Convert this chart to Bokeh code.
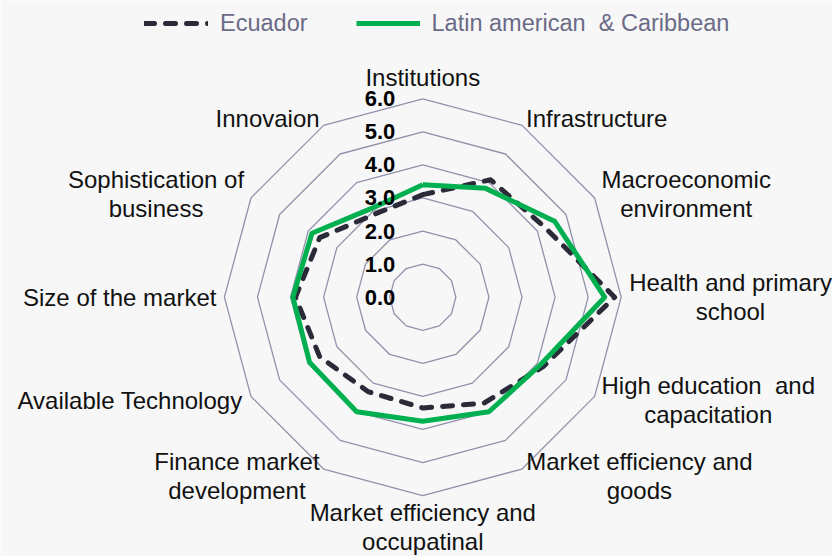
import numpy as np
from bokeh.plotting import figure
from bokeh.models import Range1d, Legend, LegendItem, ColumnDataSource
from bokeh.core.properties import value
from bokeh.embed import file_html
from bokeh.resources import INLINE

# ---------------- data ----------------
categories = [
    "Institutions",
    "Infrastructure",
    "Macroeconomic\nenvironment",
    "Health and primary\nschool",
    "High education \u00a0and\ncapacitation",
    "Market efficiency and\ngoods",
    "Market efficiency and\noccupatinal",
    "Finance market\ndevelopment",
    "Available Technology",
    "Size of the market",
    "Sophistication of\nbusiness",
    "Innovaion",
]
ecuador = [3.1, 4.1, 4.25, 5.8, 4.2, 3.7, 3.35, 3.3, 3.6, 3.85, 3.6, 2.9]
latam = [3.4, 3.8, 4.6, 5.5, 4.1, 4.0, 3.75, 4.0, 3.95, 3.93, 3.87, 3.1]
grid_levels = [1, 2, 3, 4, 5, 6]
tick_labels = ["0.0", "1.0", "2.0", "3.0", "4.0", "5.0", "6.0"]
series_names = ["Ecuador", "Latin american \u00a0& Caribbean"]

# ---------------- layout ----------------
W, H = 832, 556
S = 33.07              # pixels per unit
CX, CY = 422.3, 296.7  # centre in figure pixels (from top-left)
BG = "#f7f7f7"
GRID = "#9191ab"
GREEN = "#00b050"
DARK = "#2a2a38"
FONT = "Liberation Sans"
FS = 24

p = figure(width=W, height=H, output_backend="svg", toolbar_location=None,
           x_range=Range1d(-CX / S, (W - CX) / S),
           y_range=Range1d(-(H - CY) / S, CY / S),
           x_axis_type=None, y_axis_type=None, min_border=0)
p.grid.visible = False
p.outline_line_color = None
p.background_fill_color = BG
p.border_fill_color = BG

n = len(categories)
ang = np.arange(n) * 2 * np.pi / n
sx, cy_ = np.sin(ang), np.cos(ang)


def closed(vals):
    v = np.asarray(vals, dtype=float)
    xs = v * sx
    ys = v * cy_
    return list(np.append(xs, xs[0])), list(np.append(ys, ys[0]))


# grid polygons
for lv in grid_levels:
    gx, gy = closed([lv] * n)
    p.line(gx, gy, line_color=GRID, line_width=1.3)

# series
ex, ey = closed(ecuador)
r_ec = p.line(ex, ey, line_color=DARK, line_width=5, line_dash="10 11",
              line_cap="round", line_join="round")
lx, ly = closed(latam)
r_la = p.line(lx, ly, line_color=GREEN, line_width=5, line_join="round")

# tick labels (value axis)
tsrc = ColumnDataSource(dict(x=[-0.83] * len(tick_labels),
                             y=[float(t) for t in tick_labels],
                             t=tick_labels))
p.text(x="x", y="y", text="t", source=tsrc, text_align="right",
       text_baseline="middle", text_font=value(FONT),
       text_font_size="22px", text_font_style="bold", text_color="#000000")

# category labels
AW = {" ": 278, "\u00a0": 278, "&": 667, "A": 667, "F": 611, "H": 722,
      "I": 278, "M": 833, "S": 667, "T": 611, "f": 278, "i": 222, "j": 222,
      "l": 222, "m": 833, "r": 333, "s": 500, "t": 278, "c": 500, "k": 500,
      "v": 500, "x": 500, "y": 500, "z": 500, "w": 722}


def text_w(s):
    return max(sum(AW.get(ch, 556) for ch in line) for line in s.split("\n")) * FS / 1000.0


R_LAB = 6.24
lab_x, lab_y, lab_t = [], [], []
for i, c in enumerate(categories):
    nl = c.count("\n") + 1
    wu = text_w(c) / S
    s_, c_ = sx[i], cy_[i]
    if abs(s_) < 0.01:
        x = 0.0
        y = np.sign(c_) * (R_LAB + nl * (0.40 if c_ > 0 else 0.36))
    else:
        x = R_LAB * s_ + np.sign(s_) * wu / 2
        y = R_LAB * c_
    lab_x.append(x)
    lab_y.append(y)
    lab_t.append(c)

csrc = ColumnDataSource(dict(x=lab_x, y=lab_y, t=lab_t))
p.text(x="x", y="y", text="t", source=csrc, text_align="center",
       text_baseline="middle", text_font=value(FONT),
       text_font_size=f"{FS}px", text_color="#111111", text_line_height=1.08)

# legend
legend = Legend(items=[LegendItem(label=series_names[0], renderers=[r_ec]),
                       LegendItem(label=series_names[1], renderers=[r_la])],
                orientation="horizontal", location=(144, 519),
                glyph_width=64, glyph_height=28, label_height=28,
                label_standoff=12, spacing=48, padding=0, margin=0,
                border_line_color=None, background_fill_alpha=0,
                label_text_font=FONT, label_text_font_size="23.5px",
                label_text_color="#6b6b88")
p.add_layout(legend, "center")

open("out.html", "w").write(file_html(p, INLINE))
